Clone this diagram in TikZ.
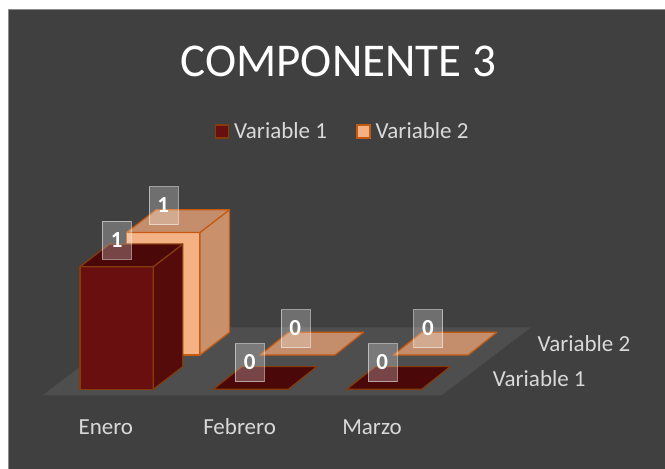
\documentclass[tikz,border=0pt]{standalone}
\usepackage{fontspec}
\setmainfont{Carlito}
\definecolor{bgc}{HTML}{404040}
\definecolor{framec}{HTML}{8C8C8C}
\definecolor{floorc}{HTML}{4E4E4E}
\definecolor{txtc}{HTML}{D9D9D9}
\definecolor{vAfront}{HTML}{6A0F0F}
\definecolor{vAside}{HTML}{560B0B}
\definecolor{vAtop}{HTML}{4A0808}
\definecolor{vAedge}{HTML}{843C0C}
\definecolor{vBfront}{HTML}{F4B183}
\definecolor{vBside}{HTML}{C8916C}
\definecolor{vBtop}{HTML}{C48E6C}
\definecolor{vBedge}{HTML}{C55A11}
\tikzset{
  lbl/.style={draw=white, draw opacity=0.5, fill=white, fill opacity=0.25, text opacity=1,
    text=white, minimum width=29pt, minimum height=38pt, inner sep=0pt,
    font=\fontsize{23}{26}\selectfont\bfseries},
  axtxt/.style={text=txtc, inner sep=0pt, font=\fontsize{23}{26}\selectfont},
  edge/.style={line width=1.2pt, line join=round}
}
% #1 x-left, #2 y-bottom, #3 height, #4 colour prefix
\newcommand\cuboid[4]{%
  \filldraw[edge, draw=#4edge, fill=#4front] (#1,#2) rectangle ++(73.3,-#3);
  \filldraw[edge, draw=#4edge, fill=#4side] (#1+73.3,#2) -- ++(29.5,-22.7) -- ++(0,-#3) -- ++(-29.5,22.7) -- cycle;
  \filldraw[edge, draw=#4edge, fill=#4top] (#1,#2-#3) -- ++(73.3,0) -- ++(29.5,-22.7) -- ++(-73.3,0) -- cycle;
}
\newcommand\flatbar[3]{%
  \filldraw[edge, draw=#3edge, fill=#3top] (#1,#2) -- ++(75,0) -- ++(28.5,-22.7) -- ++(-75,0) -- cycle;
}
\begin{document}
\begin{tikzpicture}[x=1pt,y=-1pt]
\useasboundingbox (0,0) rectangle (665,469);
\fill[white] (0,0) rectangle (665,469);
\begin{scope}
\clip (0,0) rectangle (665,469);
\filldraw[fill=bgc, draw=framec, line width=1.5pt] (8.5,9.5) rectangle (670,475);
\end{scope}
% floor
\fill[floorc] (43,395) -- (442,395) -- (531,327.3) -- (132,327.3) -- cycle;
% Variable 2 (back row)
\cuboid{126.7}{355}{122.6}{vB}
\flatbar{260}{355}{vB}
\flatbar{393.3}{355}{vB}
% Variable 1 (front row)
\cuboid{80}{389.3}{122.6}{vA}
\flatbar{213.3}{389.3}{vA}
\flatbar{346.7}{389.3}{vA}
% data labels
\node[lbl] (l2a) at (163.3,205.5) {1};
\node[lbl] (l2b) at (295.3,328.5) {0};
\node[lbl] (l2c) at (428,328.5) {0};
\node[lbl] (l1a) at (116.7,240) {1};
\node[lbl] (l1b) at (249.8,362.5) {0};
\node[lbl] (l1c) at (382.2,362.5) {0};
% title
\node[anchor=base, text=white, inner sep=0pt, font=\fontsize{47}{56}\selectfont] (title) at (338.3,76) {COMPONENTE 3};
% legend
\node[draw=vAedge, fill=vAfront, line width=1.5pt, minimum size=13pt, inner sep=0pt] (k1) at (222,131.5) {};
\node[axtxt, anchor=base west] (t1) at (234,138.3) {Variable 1};
\node[draw=vBedge, fill=vBfront, line width=1.5pt, minimum size=13pt, inner sep=0pt] (k2) at (363.3,131.5) {};
\node[axtxt, anchor=base west] (t2) at (375.5,138.3) {Variable 2};
% category axis
\node[axtxt, anchor=base] (c1) at (105.8,434) {Enero};
\node[axtxt, anchor=base] (c2) at (239.6,434) {Febrero};
\node[axtxt, anchor=base] (c3) at (372,434) {Marzo};
% series axis
\node[axtxt, anchor=base west] (s2) at (537.3,351.7) {Variable 2};
\node[axtxt, anchor=base west] (s1) at (492.7,386.7) {Variable 1};
\end{tikzpicture}
\end{document}
